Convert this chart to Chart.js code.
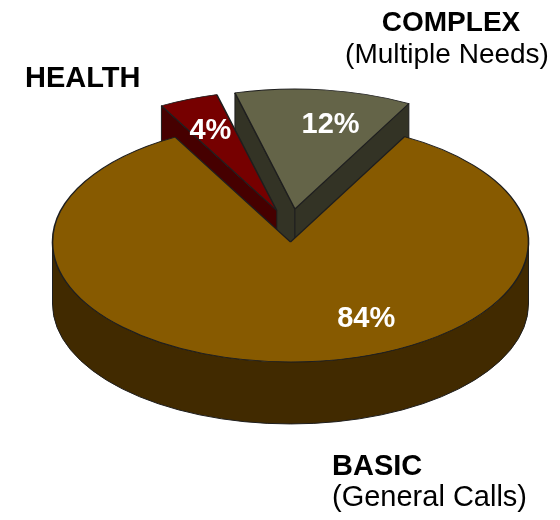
<!DOCTYPE html>
<html><head><meta charset="utf-8">
<script src="https://cdn.jsdelivr.net/npm/chart.js@4.4.1/dist/chart.umd.min.js"></script>
<style>html,body{margin:0;padding:0;background:#fff;} canvas{display:block}</style>
</head><body>
<canvas id="c" width="560" height="520"></canvas>
<script>
// ---- data ----
const categories = ['HEALTH', 'COMPLEX', 'BASIC'];
const subLabels = ['', '(Multiple Needs)', '(General Calls)'];
const shares = [4, 12, 84];
const pctLabels = ['4%', '12%', '84%'];

// ---- styles ----
const topColors = ['#760000', '#646448', '#875A00'];
const sideColors = ['#460000', '#333325', '#412A00'];
const explode = [67, 66, 0];
const explodeXScale = 0.55;
const labelShiftDeg = [-1, 5, -26];
const VIEW = {cx: 290.5, cy: 242, squash: 0.504, depth: 62};
const FONT = '"Liberation Sans", Arial, sans-serif';
const catLayout = [
  {x: 25, y: 87, align: 'left', size: 29},
  {x: 451, y: 31, align: 'center', sx: 447, sy: 63, size: 28},
  {x: 332, y: 475, align: 'left', sx: 332, sy: 506, size: 29}
];

function drawWalls(ctx, it, s, D) {
  const {a, b, R, X, Y, i} = it;
  const ry = R * s;
  ctx.save();
  ctx.fillStyle = sideColors[i];
  ctx.strokeStyle = '#1e1e1e';
  ctx.lineWidth = 1;
  ctx.lineJoin = 'round';
  const P = t => [X + R * Math.cos(t), Y + ry * Math.sin(t)];
  const quad = t => {
    const p = P(t);
    ctx.beginPath();
    ctx.moveTo(X, Y); ctx.lineTo(p[0], p[1]);
    ctx.lineTo(p[0], p[1] + D); ctx.lineTo(X, Y + D);
    ctx.closePath(); ctx.fill(); ctx.stroke();
  };
  if (Math.cos(a) < 0) quad(a);
  if (Math.cos(b) > 0) quad(b);
  for (let k = -2; k <= 2; k++) {
    const lo = Math.max(a, 2 * Math.PI * k), hi = Math.min(b, 2 * Math.PI * k + Math.PI);
    if (hi > lo) {
      const p1 = P(lo), p2 = P(hi);
      ctx.beginPath();
      ctx.moveTo(p1[0], p1[1]);
      ctx.ellipse(X, Y, R, ry, 0, lo, hi, false);
      ctx.lineTo(p2[0], p2[1] + D);
      ctx.ellipse(X, Y + D, R, ry, 0, hi, lo, true);
      ctx.closePath(); ctx.fill(); ctx.stroke();
    }
  }
  ctx.restore();
}

const pie3d = {
  id: 'pie3d',
  beforeDatasetsDraw(chart) {
    const ctx = chart.ctx;
    const meta = chart.getDatasetMeta(0);
    const s = VIEW.squash, D = VIEW.depth;
    const items = meta.data.map((el, i) => {
      const a = el.startAngle, b = el.endAngle, mid = (a + b) / 2;
      const R = el.outerRadius;
      const X = VIEW.cx + explode[i] * Math.cos(mid) * explodeXScale;
      const Y = VIEW.cy + explode[i] * Math.sin(mid) * s;
      return {el, i, a, b, mid, R, X, Y};
    });
    chart.$pie3d = items;
    const order = items.slice().sort((p, q) => Math.sin(p.mid) - Math.sin(q.mid));
    order.forEach(it => {
      drawWalls(ctx, it, s, D);
      ctx.save();
      ctx.translate(it.X, it.Y);
      ctx.scale(1, s);
      ctx.translate(-it.el.x, -it.el.y);
      it.el.draw(ctx);
      ctx.restore();
    });
    return false;
  },
  afterDraw(chart) {
    const ctx = chart.ctx;
    const s = VIEW.squash;
    ctx.save();
    (chart.$pie3d || []).forEach(it => {
      const ang = it.mid + labelShiftDeg[it.i] * Math.PI / 180;
      const x = it.X + 0.72 * it.R * Math.cos(ang);
      const y = it.Y + 0.72 * it.R * s * Math.sin(ang);
      ctx.fillStyle = '#ffffff';
      ctx.font = 'bold 29px ' + FONT;
      ctx.textAlign = 'center';
      ctx.textBaseline = 'middle';
      ctx.fillText(pctLabels[it.i], x, y);
    });
    ctx.fillStyle = '#000000';
    ctx.textBaseline = 'alphabetic';
    categories.forEach((c, i) => {
      const L = catLayout[i];
      ctx.textAlign = L.align;
      ctx.font = 'bold ' + L.size + 'px ' + FONT;
      ctx.fillText(c, L.x, L.y);
      if (subLabels[i]) {
        ctx.font = L.size + 'px ' + FONT;
        ctx.fillText(subLabels[i], L.sx, L.sy);
      }
    });
    ctx.restore();
  }
};

new Chart(document.getElementById('c'), {
  type: 'pie',
  data: {
    labels: categories,
    datasets: [{
      data: shares,
      backgroundColor: topColors,
      borderColor: '#1e1e1e',
      borderWidth: 1.6,
      radius: 238
    }]
  },
  options: {
    responsive: false,
    animation: false,
    rotation: -29,
    plugins: {legend: {display: false}, tooltip: {enabled: false}}
  },
  plugins: [pie3d]
});
</script>
</body></html>
